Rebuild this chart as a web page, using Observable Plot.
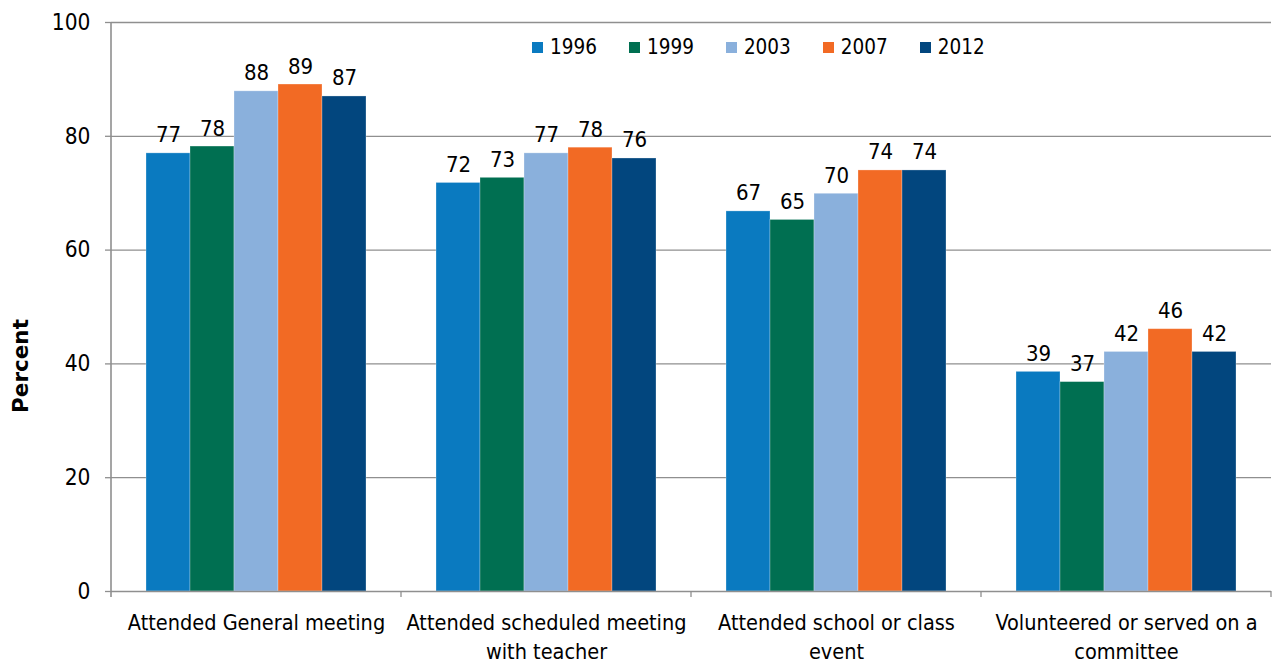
<!DOCTYPE html>
<html><head><meta charset="utf-8">
<script src="https://cdn.jsdelivr.net/npm/d3@7"></script>
<script src="https://cdn.jsdelivr.net/npm/@observablehq/plot@0.6"></script>
<style>
body{margin:0;background:#fff;font-family:"DejaVu Sans Condensed","DejaVu Sans",sans-serif;}
#wrap{position:relative;width:1280px;height:663px;}
#legend{position:absolute;top:35px;left:532px;display:flex;align-items:center;font-size:20.5px;color:#000;}
#legend .item{display:flex;align-items:center;margin-right:32px;}
#legend .sw{width:11px;height:11px;margin-right:7px;}
</style></head><body><div id="wrap"></div>
<script>
const categories = ["Attended General meeting","Attended scheduled meeting with teacher","Attended school or class event","Volunteered or served on a committee"];
const categoryLabels = ["Attended General meeting","Attended scheduled meeting\nwith teacher","Attended school or class\nevent","Volunteered or served on a\ncommittee"];
const years = ["1996","1999","2003","2007","2012"];
const colors = ["#0A7AC0","#006F51","#8AB0DC","#F26A24","#02467E"];
const v1996 = [77.0,71.8,66.8,38.6];
const v1999 = [78.2,72.7,65.3,36.8];
const v2003 = [87.9,77.0,69.9,42.1];
const v2007 = [89.1,78.0,74.0,46.1];
const v2012 = [87.0,76.1,74.0,42.1];
const yTicks = [0,20,40,60,80,100];
const yLabel = "Percent";

const series = [v1996,v1999,v2003,v2007,v2012];
const data = [];
categories.forEach((c,i)=>years.forEach((y,j)=>data.push({category:c,year:y,value:series[j][i]})));

const FONT = '"DejaVu Sans Condensed","DejaVu Sans",sans-serif';
const GRID = "#8f8f8f";

const chart = Plot.plot({
  width:1280, height:663, marginTop:22, marginBottom:72, marginLeft:111, marginRight:9,
  style:{fontFamily:FONT, background:"white", color:"#000", overflow:"visible"},
  fx:{domain:categories, padding:0},
  x:{domain:years, paddingInner:0, paddingOuter:0.75, axis:null},
  y:{domain:[0,100]},
  color:{domain:years, range:colors},
  marks:[
    Plot.ruleY(yTicks.filter(d=>d>0), {stroke:GRID, strokeWidth:1.3}),
    Plot.barY(data, {fx:"category", x:"year", y:"value", fill:"year", stroke:"white", strokeOpacity:0.35, strokeWidth:0.8}),
    Plot.text(data, {fx:"category", x:"year", y:"value", text:d=>String(Math.round(d.value)), lineAnchor:"bottom", dy:-11, fontSize:22, fill:"#000"}),
    Plot.ruleY([0], {stroke:GRID, strokeWidth:1.6}),
    Plot.axisY({ticks:yTicks, tickSize:6, tickPadding:15, fontSize:22.5, label:null, stroke:GRID, strokeWidth:1.3}),
    Plot.axisFx({anchor:"bottom", tickSize:0, tickPadding:18, fontSize:21.5, lineHeight:1.35, label:null, tickFormat:d=>categoryLabels[categories.indexOf(d)]})
  ]
});

const svg = d3.select(chart);
const fx = chart.scale("fx");
const y = chart.scale("y");
const y0 = y.apply(0), y100 = y.apply(100);
const xLeft = fx.apply(categories[0]);
svg.append("line").attr("x1",xLeft).attr("x2",xLeft).attr("y1",y100).attr("y2",y0+6)
  .attr("stroke",GRID).attr("stroke-width",1.6);
categories.forEach(c=>{
  const xr = fx.apply(c) + fx.bandwidth;
  svg.append("line").attr("x1",xr).attr("x2",xr).attr("y1",y0).attr("y2",y0+6)
    .attr("stroke",GRID).attr("stroke-width",1.3);
});
svg.append("text").attr("transform",`translate(20,366) rotate(-90)`)
  .attr("text-anchor","middle").attr("dominant-baseline","central")
  .attr("font-weight","bold").attr("font-size",21.5).attr("font-family",'"DejaVu Sans",sans-serif').attr("fill","#000").text(yLabel);

const wrap = document.getElementById("wrap");
wrap.appendChild(chart);
const legend = document.createElement("div");
legend.id = "legend";
years.forEach((yr,i)=>{
  const it = document.createElement("div"); it.className="item";
  const sw = document.createElement("div"); sw.className="sw"; sw.style.background=colors[i];
  const lb = document.createElement("span"); lb.textContent = yr;
  it.appendChild(sw); it.appendChild(lb); legend.appendChild(it);
});
wrap.appendChild(legend);
</script></body></html>
